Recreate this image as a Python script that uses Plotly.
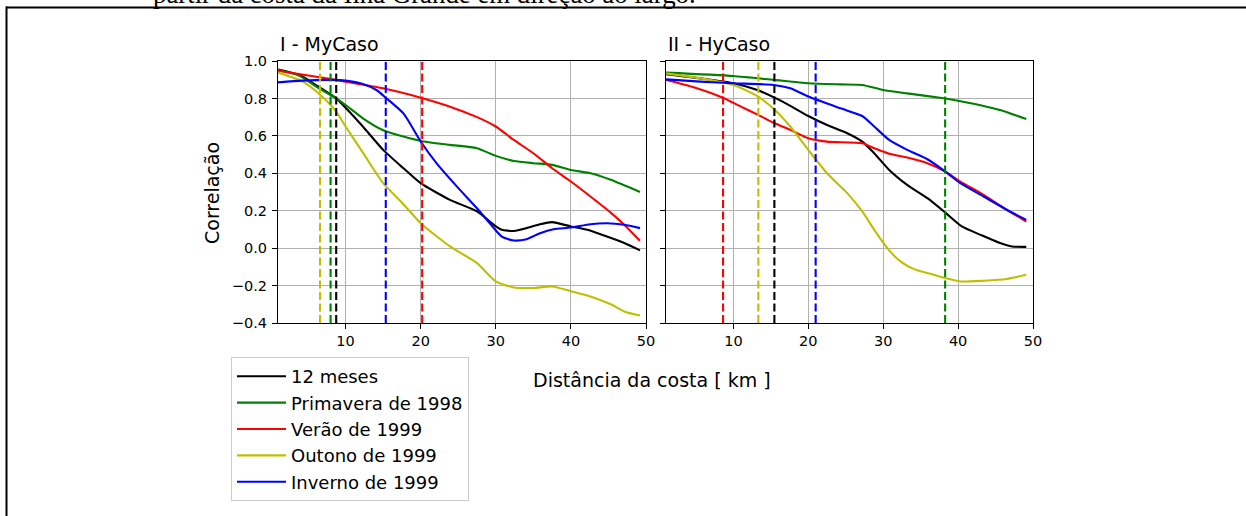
import plotly.graph_objects as go

# ---------------- data ----------------
series_names = ["12 meses", "Primavera de 1998", "Verão de 1999", "Outono de 1999", "Inverno de 1999"]
series_colors = ["#000000", "#008000", "#ff0000", "#bfbf00", "#0000ff"]

# Panel I - MyCaso
my_black_x = [1, 3.9, 6.1, 8.75, 10, 12.3, 15, 17.7, 20, 23.9, 27.5, 30, 30.8, 32.4, 34.1, 35.9, 37.5, 40, 42.2, 44.8, 47.1, 49.2]
my_black_y = [0.955, 0.925, 0.87, 0.80, 0.75, 0.65, 0.525, 0.427, 0.347, 0.258, 0.196, 0.116, 0.098, 0.092, 0.107, 0.128, 0.139, 0.116, 0.098, 0.062, 0.027, -0.012]
my_green_x = [1, 3.9, 6.1, 8.75, 10, 12.3, 15, 17.7, 20, 23.9, 27.5, 30, 32.4, 35, 37.5, 40, 42.6, 45.3, 49.2]
my_green_y = [0.952, 0.92, 0.863, 0.80, 0.765, 0.694, 0.63, 0.596, 0.573, 0.552, 0.534, 0.493, 0.466, 0.454, 0.445, 0.418, 0.40, 0.365, 0.30]
my_red_x = [1, 6.1, 10, 15, 20, 23.9, 27.5, 30, 32.4, 35, 37.5, 40, 42.6, 45.3, 47.1, 49.2]
my_red_y = [0.948, 0.916, 0.89, 0.854, 0.804, 0.756, 0.70, 0.65, 0.578, 0.507, 0.427, 0.356, 0.276, 0.19, 0.125, 0.039]
my_yellow_x = [1, 4.3, 6.6, 8.75, 10, 12.3, 15, 17.7, 20, 23.9, 27.5, 30, 32.4, 35, 37.5, 40, 42.6, 45.3, 47.1, 49.2]
my_yellow_y = [0.938, 0.89, 0.82, 0.73, 0.65, 0.51, 0.347, 0.235, 0.133, 0.009, -0.08, -0.178, -0.21, -0.213, -0.205, -0.23, -0.258, -0.30, -0.338, -0.36]
my_blue_x = [1, 4.3, 7.9, 10, 12.3, 14.1, 15.35, 17.7, 20, 22.1, 24.8, 27.5, 29.2, 30.8, 32.4, 34.1, 35.9, 37.7, 40, 42.6, 44.8, 47.1, 49.2]
my_blue_y = [0.886, 0.895, 0.899, 0.895, 0.877, 0.845, 0.804, 0.72, 0.57, 0.454, 0.33, 0.213, 0.133, 0.062, 0.041, 0.048, 0.08, 0.101, 0.11, 0.128, 0.133, 0.125, 0.107]
# dashed markers (distance per series) in panel I
my_vlines = [6.6, 8.0, 8.75, 15.35, 20.2]
my_vline_colors = ["#bfbf00", "#008000", "#000000", "#0000ff", "#ff0000"]

# Panel II - HyCaso
hy_black_x = [1, 5.6, 10, 13.2, 15.5, 17.6, 20, 22.5, 25.2, 27.2, 28.8, 30.8, 33.2, 35.9, 38.3, 40.5, 43, 45.6, 47.2, 49.1]
hy_black_y = [0.93, 0.907, 0.881, 0.845, 0.804, 0.76, 0.706, 0.658, 0.614, 0.569, 0.507, 0.418, 0.338, 0.267, 0.19, 0.116, 0.071, 0.027, 0.009, 0.007]
hy_green_x = [1, 10, 15.4, 20, 24.3, 27.2, 30, 33.2, 38.3, 40, 43.4, 45.6, 49.1]
hy_green_y = [0.938, 0.92, 0.899, 0.881, 0.875, 0.872, 0.845, 0.827, 0.80, 0.788, 0.76, 0.738, 0.69]
hy_red_x = [1, 4.8, 8.6, 11, 13.3, 15.5, 17.6, 20, 22.5, 27.2, 28.8, 30.8, 33.2, 35.9, 38.3, 40.3, 43.4, 46.5, 49.1]
hy_red_y = [0.899, 0.859, 0.804, 0.756, 0.712, 0.667, 0.632, 0.587, 0.569, 0.56, 0.534, 0.504, 0.484, 0.454, 0.409, 0.356, 0.285, 0.205, 0.142]
hy_yellow_x = [1, 5.6, 10, 13.3, 15.5, 17.6, 20, 22.5, 25.2, 27.2, 28.8, 30.8, 32.3, 34.1, 36.3, 38.3, 40.3, 43.4, 46.5, 49.1]
hy_yellow_y = [0.934, 0.907, 0.872, 0.81, 0.74, 0.65, 0.525, 0.40, 0.294, 0.196, 0.098, -0.012, -0.071, -0.112, -0.137, -0.16, -0.178, -0.174, -0.165, -0.142]
hy_blue_x = [1, 5.6, 10, 15.4, 17.6, 20, 24.3, 27.2, 28.8, 30.8, 33.2, 35.9, 38.3, 40.3, 43.4, 46.5, 49.1]
hy_blue_y = [0.902, 0.89, 0.881, 0.872, 0.854, 0.81, 0.747, 0.706, 0.65, 0.578, 0.525, 0.475, 0.409, 0.347, 0.276, 0.205, 0.151]
# dashed markers (distance per series) in panel II
hy_vlines = [8.62, 13.33, 15.47, 20.98, 38.27]
hy_vline_colors = ["#ff0000", "#bfbf00", "#000000", "#0000ff", "#008000"]

x_ticks = [10, 20, 30, 40, 50]
y_ticks = [-0.4, -0.2, 0.0, 0.2, 0.4, 0.6, 0.8, 1.0]
y_tick_text = ["\u22120.4", "\u22120.2", "0.0", "0.2", "0.4", "0.6", "0.8", "1.0"]
panel_titles = ["I - MyCaso", "II - HyCaso"]

# ---------------- figure ----------------
W, H = 1246, 516
FONT = "DejaVu Sans"
LW = 2.1


def px_x(p):
    return p / W


def px_y(p):
    return 1 - p / H


fig = go.Figure()

panels = [
    ("x", "y", [(my_black_x, my_black_y), (my_green_x, my_green_y), (my_red_x, my_red_y),
                (my_yellow_x, my_yellow_y), (my_blue_x, my_blue_y)], my_vlines, my_vline_colors, True),
    ("x2", "y2", [(hy_black_x, hy_black_y), (hy_green_x, hy_green_y), (hy_red_x, hy_red_y),
                  (hy_yellow_x, hy_yellow_y), (hy_blue_x, hy_blue_y)], hy_vlines, hy_vline_colors, False),
]

for xa, ya, curves, vlines, vcols, show in panels:
    for i, (cx, cy) in enumerate(curves):
        fig.add_trace(go.Scatter(
            x=cx, y=cy, mode="lines", xaxis=xa, yaxis=ya,
            name=series_names[i], showlegend=show,
            line=dict(color=series_colors[i], width=LW, shape="spline", smoothing=0.6),
            hoverinfo="skip",
        ))
    for v, c in zip(vlines, vcols):
        fig.add_trace(go.Scatter(
            x=[v, v], y=[y_ticks[0], y_ticks[-1]], mode="lines", xaxis=xa, yaxis=ya,
            showlegend=False, line=dict(color=c, width=LW, dash="8px,3.5px"),
            hoverinfo="skip",
        ))

axis_common = dict(
    showline=True, linecolor="black", linewidth=1.1, mirror=True,
    showgrid=True, gridcolor="#b0b0b0", gridwidth=1.1,
    ticks="outside", ticklen=5, tickwidth=1.1, tickcolor="black",
    zeroline=False, tickfont=dict(family=FONT, size=14.5, color="black"),
)

fig.update_layout(
    width=W, height=H,
    margin=dict(l=0, r=0, t=0, b=0, autoexpand=False),
    paper_bgcolor="white", plot_bgcolor="white",
    showlegend=True,
    xaxis=dict(domain=[px_x(278), px_x(646)], range=[1, 50], tickvals=x_ticks, anchor="y", **axis_common),
    yaxis=dict(domain=[px_y(323), px_y(61)], range=[-0.4, 1.0], tickvals=y_ticks, ticktext=y_tick_text,
               anchor="x", ticklabelstandoff=2, **axis_common),
    xaxis2=dict(domain=[px_x(666), px_x(1033)], range=[1, 50], tickvals=x_ticks, anchor="y2", **axis_common),
    yaxis2=dict(domain=[px_y(323), px_y(61)], range=[-0.4, 1.0], tickvals=y_ticks, showticklabels=False,
                anchor="x2", **axis_common),
    legend=dict(
        x=px_x(231), y=px_y(357), xanchor="left", yanchor="top",
        bgcolor="white", bordercolor="#cccccc", borderwidth=1,
        font=dict(family=FONT, size=18, color="black"),
        itemwidth=49, tracegroupgap=0,
    ),
    # page caption line sitting just above the framed figure
    title=dict(
        text="partir da costa da Ilha Grande em direção ao largo.",
        xref="container", yref="container",
        x=px_x(153), y=px_y(3), xanchor="left", yanchor="bottom",
        font=dict(family="Liberation Serif", size=26.8, color="black"),
        automargin=False,
    ),
)

annotations = [
    dict(text=panel_titles[0], x=px_x(278), y=px_y(44), xanchor="left", yanchor="middle", size=19),
    dict(text=panel_titles[1], x=px_x(666), y=px_y(44), xanchor="left", yanchor="middle", size=19),
    dict(text="Correlação", x=px_x(212), y=px_y(193), xanchor="center", yanchor="middle",
         textangle=-90, size=19),
    dict(text="Distância da costa [ km ]", x=px_x(652), y=px_y(380), xanchor="center",
         yanchor="middle", size=19),
]
for a in annotations:
    size = a.pop("size")
    fig.add_annotation(xref="paper", yref="paper", showarrow=False,
                       font=dict(family=FONT, size=size, color="black"), **a)

# frame lines of the page box
fig.add_shape(type="line", xref="paper", yref="paper", x0=px_x(6), x1=1, y0=px_y(7.5), y1=px_y(7.5),
              line=dict(color="black", width=2))
fig.add_shape(type="line", xref="paper", yref="paper", x0=px_x(6.5), x1=px_x(6.5), y0=0, y1=px_y(6.5),
              line=dict(color="black", width=2))

fig.write_html("out.html")
